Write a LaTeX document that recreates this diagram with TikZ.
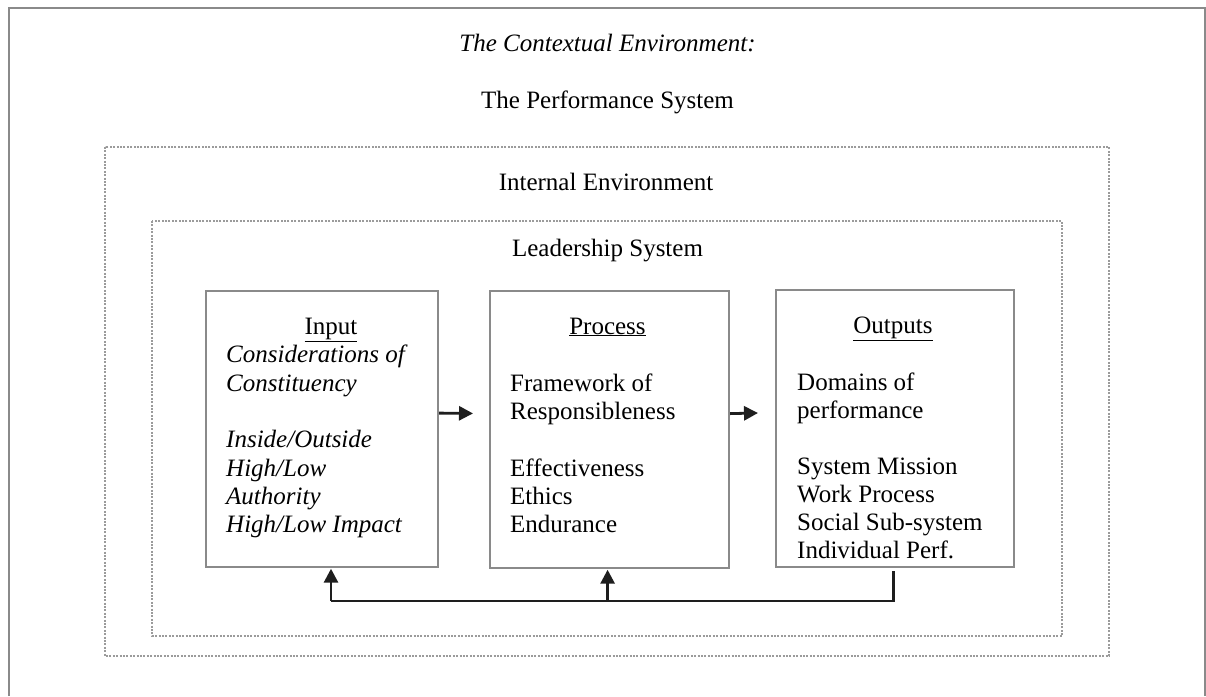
\documentclass[tikz,border=0pt]{standalone}
\usepackage{fontspec}
\setmainfont{Liberation Serif}
\usetikzlibrary{arrows.meta}
\definecolor{framegray}{RGB}{138,138,138}
\definecolor{dotgray}{RGB}{155,155,155}
\definecolor{inkblack}{RGB}{30,30,30}
\begin{document}
\begin{tikzpicture}[x=1pt,y=-1pt,
  txt/.style={font=\fontsize{25}{28.4}\selectfont, inner sep=0pt, text=black},
  ltxt/.style={txt, anchor=base west},
  itxt/.style={ltxt, font=\fontsize{25}{28.4}\selectfont\itshape},
  ctxt/.style={txt, anchor=base},
  frameline/.style={draw=framegray, line width=2pt},
  dotframe/.style={draw=dotgray, line width=2pt, dash pattern=on 2pt off 1.4pt},
  boxnode/.style={draw=framegray, line width=2.2pt, inner sep=0pt, anchor=north west},
  conn/.style={draw=inkblack, line width=2.8pt},
  tip/.style={-{Triangle[length=14pt,width=14pt]}}
]
\useasboundingbox (0,0) rectangle (1206,696);

% outer open frame
\draw[frameline] (8.5,696) -- (8.5,8) -- (1205,8) -- (1205,696);

% dotted environments
\draw[dotframe] (105,147) rectangle (1109,656);
\draw[dotframe] (152,221) rectangle (1062,636);

% titles
\node[ctxt, font=\fontsize{25}{28.4}\selectfont\itshape] (ctx) at (607.5,51) {The Contextual Environment:};
\node[ctxt] (perf) at (607.5,108) {The Performance System};
\node[ctxt] (intenv) at (606,190.5) {Internal Environment};
\node[ctxt] (lead) at (607.5,256.5) {Leadership System};

% boxes
\node[boxnode, minimum width=232, minimum height=276] (inbox) at (205,290) {};
\node[boxnode, minimum width=239, minimum height=277] (procbox) at (489,290) {};
\node[boxnode, minimum width=238, minimum height=277] (outbox) at (775,289) {};

% Input box text
\node[ctxt] (inhead) at (331,334) {\underline{Input}};
\node[itxt] (in1) at (226,362.5) {Considerations of};
\node[itxt] (in2) at (226,391) {Constituency};
\node[itxt] (in3) at (226,447.5) {Inside/Outside};
\node[itxt] (in4) at (226,476) {High/Low};
\node[itxt] (in5) at (226,504) {Authority};
\node[itxt] (in6) at (226,532.5) {High/Low Impact};

% Process box text
\node[ctxt] (prhead) at (607.5,334) {\underline{Process}};
\node[ltxt] (pr1) at (510,391) {Framework of};
\node[ltxt] (pr2) at (510,419) {Responsibleness};
\node[ltxt] (pr3) at (510,476) {Effectiveness};
\node[ltxt] (pr4) at (510,504) {Ethics};
\node[ltxt] (pr5) at (510,532.5) {Endurance};

% Outputs box text
\node[ctxt] (ouhead) at (893,333) {\underline{Outputs}};
\node[ltxt] (ou1) at (797,390) {Domains of};
\node[ltxt] (ou2) at (797,418) {performance};
\node[ltxt] (ou3) at (797,474) {System Mission};
\node[ltxt] (ou4) at (797,502) {Work Process};
\node[ltxt] (ou5) at (797,530) {Social Sub-system};
\node[ltxt] (ou6) at (797,558) {Individual Perf.};

% forward arrows
\draw[conn,tip,shorten >=16pt] ([yshift=16pt]inbox.east) -- ([yshift=16pt]procbox.west);
\draw[conn,tip,shorten >=17pt] ([yshift=16pt]procbox.east) -- ([yshift=16pt]outbox.west);

% feedback loop
\coordinate (fbin) at (331,601);
\draw[conn] ([xshift=-2pt,yshift=-3pt]outbox.south) |- (fbin);
\draw[conn,tip,shorten >=0.5pt] (fbin) -- (fbin |- inbox.south);
\draw[conn,tip,shorten >=0.5pt] ([xshift=-2pt]procbox.south |- fbin) -- ([xshift=-2pt]procbox.south);
\end{tikzpicture}
\end{document}
